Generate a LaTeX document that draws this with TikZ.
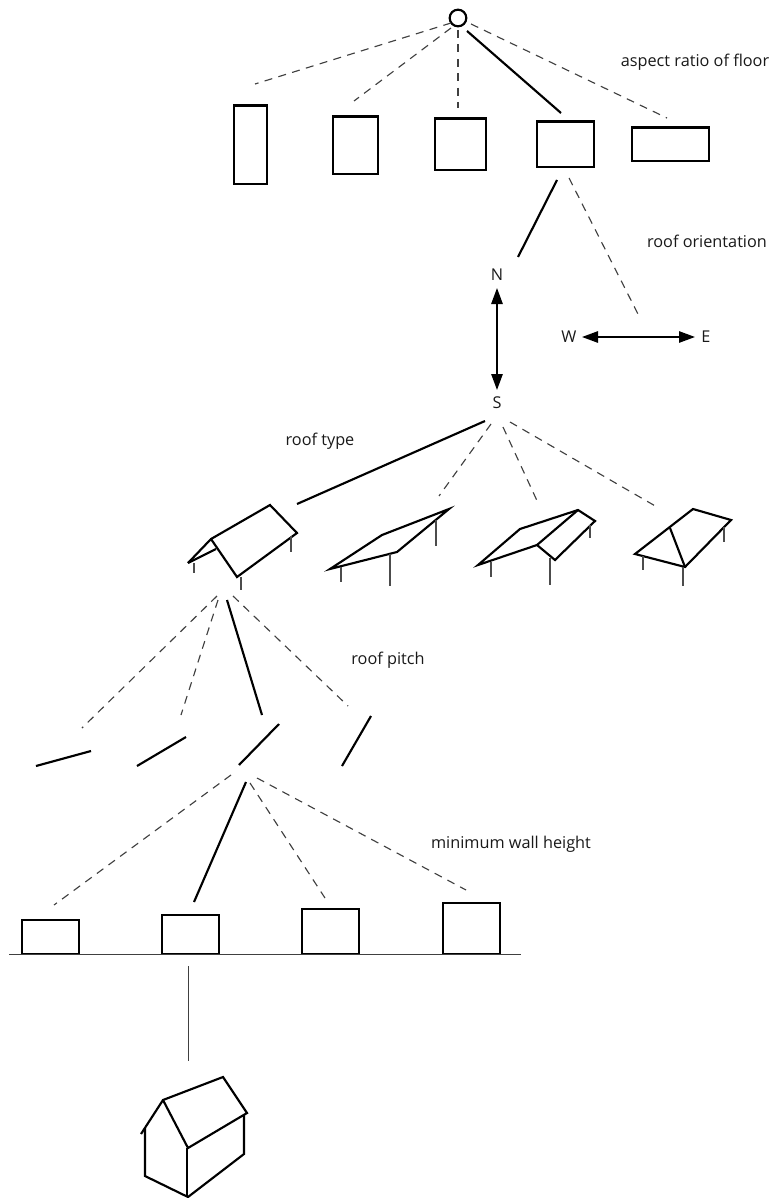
\documentclass[tikz,border=0pt]{standalone}
\usepackage{fontspec}
\setmainfont{Open Sans}
\usetikzlibrary{arrows.meta}
\tikzset{
  x=0.75pt,y=-0.75pt,
  shape line/.style={draw=black,line width=1.6pt,line join=miter},
  chosen/.style={draw=black,line width=1.6pt},
  option/.style={draw=black!75,line width=0.85pt,dash pattern=on 6pt off 4.8pt},
  leg/.style={draw=black!70,line width=0.8pt},
  thin rule/.style={draw=black!75,line width=0.75pt},
  compass/.style={draw=black,line width=1.3pt,{Triangle[length=12pt,width=8.5pt]}-{Triangle[length=12pt,width=8.5pt]}},
  caption/.style={font=\fontsize{12.2pt}{14pt}\selectfont,inner sep=0pt,text=black!90},
  letter/.style={font=\fontsize{12.2pt}{14pt}\selectfont,inner sep=0pt,text=black!90},
  planbox/.style={draw=black,line width=1.6pt,inner sep=0pt,anchor=north west},
}
\newcommand{\pbox}[5]{\node[planbox,minimum width=#4*0.75pt-0.4pt,minimum height=#5*0.75pt-0.4pt] (#1) at (#2-0.5,#3-0.5) {};}
\begin{document}
\begin{tikzpicture}
\useasboundingbox (0,0) rectangle (771,1198);
% root
\node[draw=black,line width=1.6pt,circle,minimum size=12.5pt,inner sep=0pt] (root) at (458,18) {};
% aspect boxes
\pbox{a1}{233}{105}{34}{79}
\pbox{a2}{332}{116}{46}{58}
\pbox{a3}{434}{118}{52}{52}
\pbox{a4}{536}{121}{58}{46}
\pbox{a5}{631}{127}{78}{34}
\coordinate (r1) at (451,23); \coordinate (e1) at (255,84);
\coordinate (r2) at (451,28); \coordinate (e2) at (354,101);
\coordinate (r3) at (458,30); \coordinate (e3) at (458,108);
\coordinate (r4) at (467,31); \coordinate (e4) at (561,113);
\coordinate (r5) at (471,24); \coordinate (e5) at (667,118);
\draw[option] (r1) -- (e1);
\draw[option] (r2) -- (e2);
\draw[option] (r3) -- (e3);
\draw[chosen] (r4) -- (e4);
\draw[option] (r5) -- (e5);
\node[caption] (cap1) at (695,62) {aspect ratio of floor};
\node[caption] (cap2) at (707,241) {roof orientation};
\node[caption] (cap3) at (320,441) {roof type};
\node[caption] (cap4) at (388,660) {roof pitch};
\node[caption] (cap5) at (511,844) {minimum wall height};
% orientation
\coordinate (o1) at (557,180); \coordinate (o1e) at (518,257);
\coordinate (o2) at (569,178); \coordinate (o2e) at (639,316);
\draw[chosen] (o1) -- (o1e);
\draw[option] (o2) -- (o2e);
\node[letter] (N) at (497,275) {N};
\node[letter] (S) at (497,403) {S};
\node[letter] (W) at (569,337) {W};
\node[letter] (E) at (706,337) {E};
\coordinate (nt) at (497,288); \coordinate (st) at (497,390);
\coordinate (wt) at (582,337); \coordinate (et) at (695,337);
\draw[compass] (nt) -- (st);
\draw[compass] (wt) -- (et);
% roof type connectors
\coordinate (s1) at (485,421); \coordinate (t1) at (297,504);
\coordinate (s2) at (491,424); \coordinate (t2) at (439,496);
\coordinate (s3) at (503,427); \coordinate (t3) at (539,505);
\coordinate (s4) at (510,422); \coordinate (t4) at (657,507);
\draw[chosen] (s1) -- (t1);
\draw[option] (s2) -- (t2);
\draw[option] (s3) -- (t3);
\draw[option] (s4) -- (t4);
% roof 1
\draw[shape line] (188,563) -- (211,539) -- (270,505) -- (297,533) -- (237,577) -- (211,539);
\draw[shape line] (188,563) -- (216,549);
\draw[leg] (194,563) -- (194,573) (241,577) -- (241,590) (291,536) -- (291,552);
% roof 2
\draw[shape line] (330,569) -- (382,535) -- (449,509) -- (397,552) -- cycle;
\draw[leg] (341,567) -- (341,582) (390,554) -- (390,586) (436,520) -- (436,546);
% roof 3
\draw[shape line] (478,565) -- (520,529) -- (578,510) -- (595,521) -- (555,560) -- (537,545) -- cycle;
\draw[shape line] (537,545) -- (578,510);
\draw[leg] (491,562) -- (491,577) (550,558) -- (550,585) (590,525) -- (590,538);
% roof 4
\draw[shape line] (635,554) -- (693,509) -- (731,520) -- (685,567) -- cycle;
\draw[shape line] (670,528) -- (685,567);
\draw[leg] (643,556) -- (643,570) (683,567) -- (683,586) (724,527) -- (724,542);
% pitch connectors
\coordinate (p0a) at (217,596); \coordinate (p1) at (82,728);
\coordinate (p0b) at (218,600); \coordinate (p2) at (181,715);
\coordinate (p0c) at (227,600); \coordinate (p3) at (262,715);
\coordinate (p0d) at (233,596); \coordinate (p4) at (348,706);
\draw[option] (p0a) -- (p1);
\draw[option] (p0b) -- (p2);
\draw[chosen] (p0c) -- (p3);
\draw[option] (p0d) -- (p4);
% pitch lines
\draw[shape line] (36,766) -- (91,751);
\draw[shape line] (137,766) -- (186,737);
\draw[shape line] (239,765) -- (279,724);
\draw[shape line] (342,766) -- (371,716);
% wall connectors
\coordinate (w0a) at (231,775); \coordinate (w1) at (54,905);
\coordinate (w0b) at (246,782); \coordinate (w2) at (194,902);
\coordinate (w0c) at (250,783); \coordinate (w3) at (325,898);
\coordinate (w0d) at (257,778); \coordinate (w4) at (466,890);
\draw[option] (w0a) -- (w1);
\draw[chosen] (w0b) -- (w2);
\draw[option] (w0c) -- (w3);
\draw[option] (w0d) -- (w4);
% wall boxes
\pbox{b1}{21}{919}{58}{35}
\pbox{b2}{161}{914}{58}{40}
\pbox{b3}{301}{908}{58}{46}
\pbox{b4}{442}{902}{58}{52}
\coordinate (gl) at (9,954); \coordinate (gr) at (521,954);
\draw[thin rule] (gl) -- (gr);
\coordinate (v1) at (188,966); \coordinate (v2) at (188,1061);
\draw[thin rule] (v1) -- (v2);
% house
\draw[shape line] (141,1134) -- (163,1100) -- (223,1077) -- (247,1113) -- (188,1148) -- (163,1100);
\draw[shape line] (145,1128) -- (145,1176) -- (188,1197) -- (244,1154) -- (244,1115);
\draw[shape line] (187,1148) -- (187,1197);
\end{tikzpicture}
\end{document}
